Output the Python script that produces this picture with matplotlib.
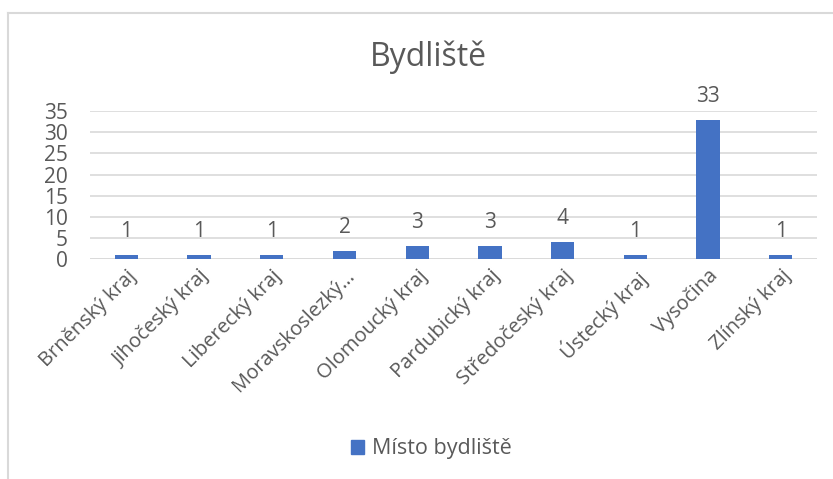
import matplotlib.pyplot as plt
from matplotlib.lines import Line2D
from matplotlib.patches import Patch

regions = ["Brněnský kraj", "Jihočeský kraj", "Liberecký kraj", "Moravskoslezký…",
           "Olomoucký kraj", "Pardubický kraj", "Středočeský kraj", "Ústecký kraj",
           "Vysočina", "Zlínský kraj"]
counts = [1, 1, 1, 2, 3, 3, 4, 1, 33, 1]
yticks = [0, 5, 10, 15, 20, 25, 30, 35]

plt.rcParams['font.family'] = ['Open Sans', 'DejaVu Sans']
text_col = "#595959"
bar_col = "#4472C4"

fig = plt.figure(figsize=(8.33, 4.79), dpi=100)
ax = fig.add_axes([0.108, 0.459, 0.873, 0.309])

x = range(len(regions))
bars = ax.bar(x, counts, width=0.32, color=bar_col, zorder=3)
for xi, v in zip(x, counts):
    ax.annotate(str(v), (xi, v), xytext=(0, 13), textcoords="offset points",
                ha="center", va="baseline", fontsize=15, color=text_col)

ax.set_xlim(-0.5, len(regions) - 0.5)
ax.set_ylim(0, 35)
ax.set_yticks(yticks)
ax.yaxis.grid(True, color="#d9d9d9", linewidth=1.2, zorder=0)
ax.set_xticks(list(x))
ax.set_xticklabels(regions, rotation=45, ha="right", rotation_mode="anchor",
                   fontsize=14.5, color=text_col)
ax.tick_params(axis="y", labelsize=15, labelcolor=text_col, length=0, pad=16)
ax.tick_params(axis="x", length=0, pad=5)
for s in ["top", "right", "left", "bottom"]:
    ax.spines[s].set_visible(False)
ax.axhline(0, color="#d9d9d9", linewidth=1.2, zorder=1)

fig.text(0.514, 0.88, "Bydliště", ha="center", va="center", fontsize=23, color=text_col)

handle = Patch(facecolor=bar_col, edgecolor=bar_col)
fig.legend([handle], ["Místo bydliště"], loc="center", bbox_to_anchor=(0.518, 0.063),
           frameon=False, fontsize=15.5, labelcolor=text_col,
           handlelength=0.6, handleheight=0.6, handletextpad=0.4)

# outer chart frame
fig.add_artist(Line2D([0.0096, 1.0], [1 - 13 / 479, 1 - 13 / 479], color="#d9d9d9", linewidth=1.5))
fig.add_artist(Line2D([0.0096, 0.0096], [0.0, 1 - 13 / 479], color="#d9d9d9", linewidth=1.5))

fig.savefig("out.png", dpi=100)
